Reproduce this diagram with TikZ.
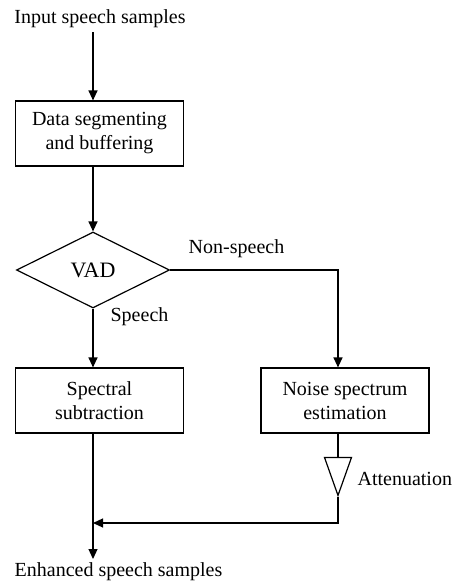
\documentclass[tikz,border=0pt]{standalone}
\usepackage{fontspec}
\setmainfont{Liberation Serif}
\usetikzlibrary{arrows.meta,shapes.geometric,positioning}

\begin{document}
\begin{tikzpicture}[x=1pt,y=-1pt,font=\fontsize{20}{24}\selectfont,line width=1.2pt,
  >={Triangle[length=10pt,width=9pt]},
  blk/.style={draw,rectangle,minimum width=168pt,minimum height=65pt,align=center,inner sep=0pt},
  dec/.style={draw,diamond,minimum width=153pt,minimum height=76pt,inner sep=0pt},
  amp/.style={draw,isosceles triangle,isosceles triangle stretches,shape border rotate=-90,
    minimum width=27pt,minimum height=38pt,inner sep=0pt}]
  \useasboundingbox (0,0) rectangle (451,582);
  \node (in) at (100,19) {Input speech samples};
  \node[blk] (seg) at (99.5,133.5) {Data segmenting\\and buffering};
  \node[dec,font=\fontsize{22}{26}\selectfont] (vad) at (93,270) {VAD};
  \node (ns) at (236.5,249) {Non-speech};
  \node (sp) at (139.5,317) {Speech};
  \node[blk] (spec) at (99.5,400.5) {Spectral\\subtraction};
  \node[blk] (noise) at (345,400.5) {Noise spectrum\\estimation};
  \node[amp,anchor=apex] (att) at (338,497) {};
  \node[anchor=west,inner xsep=0pt] (attl) at (357,479) {Attenuation};
  \coordinate (j) at (93,523);
  \node (out) at (118.5,572) {Enhanced speech samples};
  \draw[->] (vad |- in.south) -- (vad |- seg.north);
  \draw[->] (vad |- seg.south) -- (vad.north);
  \draw[->] (vad.south) -- (vad |- spec.north);
  \draw[->] (vad.east) -| (att.apex |- noise.north);
  \draw (att.apex |- noise.south) -- (att.lower side);
  \draw[->] (att.apex) |- (j);
  \draw[->] (vad |- spec.south) -- (vad |- out.north);
\end{tikzpicture}
\end{document}
